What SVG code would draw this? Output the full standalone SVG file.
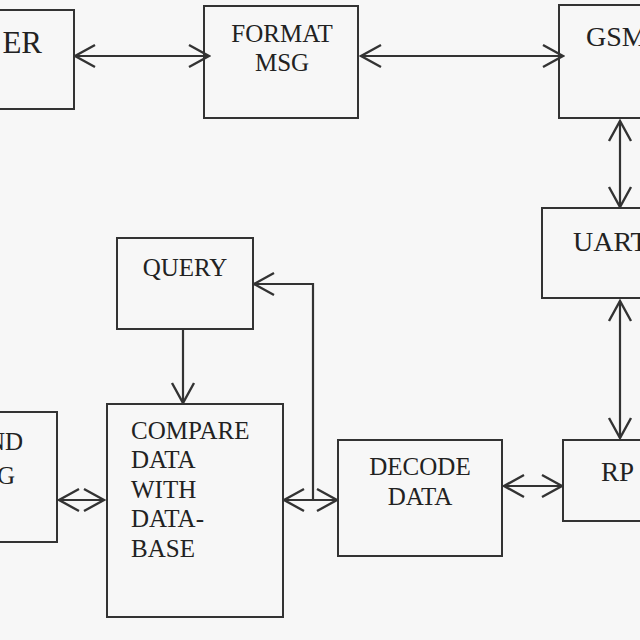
<svg xmlns="http://www.w3.org/2000/svg" width="640" height="640" viewBox="0 0 640 640">
<style>
.box{fill:none;stroke:#333;stroke-width:2}
text{font-family:'Liberation Serif','DejaVu Serif',serif;fill:#222}
.t{font-size:25px}
.tb{font-size:28px}
.c{fill:none;stroke:#333;stroke-width:2.2}
</style>
<defs>
<marker id="ah" viewBox="-22 -13 24 26" refX="0" refY="0" markerWidth="24" markerHeight="26" markerUnits="userSpaceOnUse" orient="auto-start-reverse">
<path d="M-20,-11 L0,0 L-20,11" fill="none" stroke="#333" stroke-width="2.4"/>
</marker>
</defs>
<rect width="640" height="640" fill="#f7f7f7"/>
<g id="user">
<rect class="box" x="-10" y="10" width="84" height="99"/>
<text class="tb" x="42" y="53" text-anchor="end" font-family="Liberation Serif, serif" style="font-size:31px">ER</text>
</g>
<g id="format-msg">
<rect class="box" x="204" y="6" width="154" height="112"/>
<text class="t" x="282" y="42" text-anchor="middle" font-family="Liberation Serif, serif">FORMAT</text>
<text class="t" x="282" y="71" text-anchor="middle" font-family="Liberation Serif, serif">MSG</text>
</g>
<g id="gsm">
<rect class="box" x="559" y="5" width="100" height="113"/>
<text class="tb" x="586" y="46" font-family="Liberation Serif, serif">GSM</text>
</g>
<g id="uart">
<rect class="box" x="542" y="208" width="120" height="90"/>
<text class="tb" x="573" y="251" font-family="Liberation Serif, serif">UART</text>
</g>
<g id="rp">
<rect class="box" x="563" y="440" width="100" height="81"/>
<text class="tb" x="601" y="481" font-family="Liberation Serif, serif" style="font-size:27px">RP</text>
</g>
<g id="query">
<rect class="box" x="117" y="238" width="136" height="91"/>
<text class="t" x="185" y="276" text-anchor="middle" font-family="Liberation Serif, serif">QUERY</text>
</g>
<g id="compare">
<rect class="box" x="107" y="404" width="176" height="213"/>
<text class="t" x="131" y="439" font-family="Liberation Serif, serif">COMPARE</text>
<text class="t" x="131" y="468" font-family="Liberation Serif, serif">DATA</text>
<text class="t" x="131" y="498" font-family="Liberation Serif, serif">WITH</text>
<text class="t" x="131" y="527" font-family="Liberation Serif, serif">DATA-</text>
<text class="t" x="131" y="557" font-family="Liberation Serif, serif">BASE</text>
</g>
<g id="decode">
<rect class="box" x="338" y="440" width="164" height="116"/>
<text class="t" x="420" y="475" text-anchor="middle" font-family="Liberation Serif, serif">DECODE</text>
<text class="t" x="420" y="505" text-anchor="middle" font-family="Liberation Serif, serif">DATA</text>
</g>
<g id="send-msg">
<rect class="box" x="-10" y="412" width="67" height="130"/>
<text class="t" x="23" y="450" text-anchor="end" font-family="Liberation Serif, serif">ND</text>
<text class="t" x="15" y="484" text-anchor="end" font-family="Liberation Serif, serif">G</text>
</g>
<g id="connectors">
<path class="c" d="M75,56 H209" marker-start="url(#ah)" marker-end="url(#ah)"/>
<path class="c" d="M361,56 H563" marker-start="url(#ah)" marker-end="url(#ah)"/>
<path class="c" d="M620,121 V207" marker-start="url(#ah)" marker-end="url(#ah)"/>
<path class="c" d="M620,301 V438" marker-start="url(#ah)" marker-end="url(#ah)"/>
<path class="c" d="M504,486 H562" marker-start="url(#ah)" marker-end="url(#ah)"/>
<path class="c" d="M284,500 H337" marker-start="url(#ah)" marker-end="url(#ah)"/>
<path class="c" d="M313,500 V284 H254" marker-end="url(#ah)"/>
<path class="c" d="M183,329 V403" marker-end="url(#ah)"/>
<path class="c" d="M59,500 H104" marker-start="url(#ah)" marker-end="url(#ah)"/>
</g>
</svg>
